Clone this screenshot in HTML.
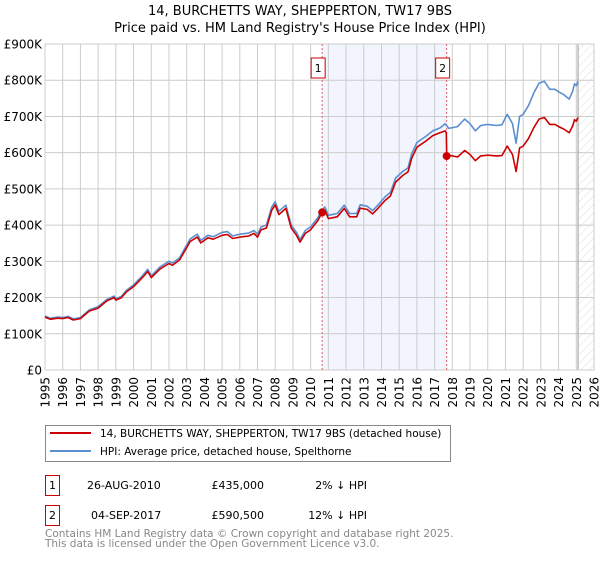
<!DOCTYPE html>
<html><head><meta charset="utf-8"><style>
body{margin:0;background:#fff;}
svg text{font-family:"DejaVu Sans","Liberation Sans",sans-serif;}
</style></head><body>
<svg id="c" width="600" height="560" xmlns="http://www.w3.org/2000/svg">
<defs><pattern id="hatch" width="6" height="6" patternUnits="userSpaceOnUse" patternTransform="rotate(45)"><line x1="0" y1="0" x2="0" y2="6" stroke="#d4d4d4" stroke-width="0.8"/></pattern></defs>
<text x="300" y="15" text-anchor="middle" font-size="13">14, BURCHETTS WAY, SHEPPERTON, TW17 9BS</text>
<text x="300" y="32" text-anchor="middle" font-size="13">Price paid vs. HM Land Registry's House Price Index (HPI)</text>
<g id="plot"></g>
<g>
<rect x="45.5" y="425.5" width="405" height="36" fill="#fff" stroke="#888"/>
<line x1="50" y1="433" x2="91" y2="433" stroke="#cc0000" stroke-width="2"/>
<text x="100" y="437" font-size="10.5">14, BURCHETTS WAY, SHEPPERTON, TW17 9BS (detached house)</text>
<line x1="50" y1="451" x2="91" y2="451" stroke="#5b8fd0" stroke-width="2"/>
<text x="100" y="455" font-size="10.5">HPI: Average price, detached house, Spelthorne</text>
</g>
<g font-size="11">
<rect x="45.5" y="475.5" width="14" height="20" fill="#fff" stroke="#cc0000"/><text x="52.5" y="489" text-anchor="middle">1</text>
<text x="87" y="489">26-AUG-2010</text><text x="264" y="489" text-anchor="end">£435,000</text><text x="367" y="489" text-anchor="end">2% ↓ HPI</text>
<rect x="45.5" y="505.5" width="14" height="20" fill="#fff" stroke="#cc0000"/><text x="52.5" y="519" text-anchor="middle">2</text>
<text x="91" y="519">04-SEP-2017</text><text x="264" y="519" text-anchor="end">£590,500</text><text x="367" y="519" text-anchor="end">12% ↓ HPI</text>
</g>
<text x="45" y="537" font-size="10.5" fill="#888">Contains HM Land Registry data © Crown copyright and database right 2025.</text>
<text x="45" y="547" font-size="10.5" fill="#888">This data is licensed under the Open Government Licence v3.0.</text>
</svg>
<script>
const hpiDates=[1995.0,1995.3,1995.7,1996.0,1996.3,1996.6,1997.0,1997.5,1998.0,1998.5,1998.9,1999.0,1999.3,1999.6,2000.0,2000.5,2000.8,2001.0,2001.5,2002.0,2002.2,2002.6,2003.0,2003.2,2003.6,2003.8,2004.2,2004.5,2005.0,2005.3,2005.6,2006.0,2006.5,2006.8,2007.0,2007.2,2007.5,2007.8,2008.0,2008.2,2008.6,2008.9,2009.2,2009.4,2009.7,2010.0,2010.4,2010.65,2010.8,2011.0,2011.5,2011.9,2012.2,2012.6,2012.8,2013.2,2013.5,2013.8,2014.2,2014.5,2014.8,2015.2,2015.5,2015.7,2016.0,2016.5,2016.9,2017.3,2017.6,2017.8,2018.3,2018.7,2019.0,2019.3,2019.6,2020.0,2020.5,2020.8,2021.1,2021.4,2021.6,2021.8,2022.0,2022.3,2022.6,2022.9,2023.2,2023.5,2023.8,2024.0,2024.3,2024.6,2024.8,2024.9,2025.0,2025.1];
const hpiValues=[149,143,146,145,148,141,145,166,175,195,204,197,203,220,235,260,278,260,285,300,295,310,345,362,375,358,372,368,380,382,370,375,378,385,375,395,400,450,465,438,455,400,380,360,385,395,420,442,450,427,432,455,432,432,456,452,440,455,478,490,530,548,558,596,628,645,660,668,680,667,672,693,680,660,675,678,675,677,706,680,626,700,706,730,765,792,797,775,775,768,760,748,770,790,785,797];
const priceDates=[1995.0,1995.3,1995.7,1996.0,1996.3,1996.6,1997.0,1997.5,1998.0,1998.5,1998.9,1999.0,1999.3,1999.6,2000.0,2000.5,2000.8,2001.0,2001.5,2002.0,2002.2,2002.6,2003.0,2003.2,2003.6,2003.8,2004.2,2004.5,2005.0,2005.3,2005.6,2006.0,2006.5,2006.8,2007.0,2007.2,2007.5,2007.8,2008.0,2008.2,2008.6,2008.9,2009.2,2009.4,2009.7,2010.0,2010.4,2010.65,2010.8,2011.0,2011.5,2011.9,2012.2,2012.6,2012.8,2013.2,2013.5,2013.8,2014.2,2014.5,2014.8,2015.2,2015.5,2015.7,2016.0,2016.5,2016.9,2017.3,2017.6,2017.66,2017.68,2017.8,2018.3,2018.7,2019.0,2019.3,2019.6,2020.0,2020.5,2020.8,2021.1,2021.4,2021.6,2021.8,2022.0,2022.3,2022.6,2022.9,2023.2,2023.5,2023.8,2024.0,2024.3,2024.6,2024.8,2024.9,2025.0,2025.1];
const priceValues=[146,140,143,142,145,138,142,163,171,191,200,193,199,216,230,255,272,255,279,294,289,304,338,355,367,351,365,361,372,374,363,367,370,377,367,387,392,441,456,429,446,392,372,353,377,387,412,435,441,418,423,446,423,423,447,443,431,446,468,480,519,537,547,584,615,632,647,655,660,655,590.5,593,588,606,595,578,591,593,591,592,618,595,548,613,618,639,669,693,697,678,678,672,665,655,674,691,687,697];
const saleDates=[2010.65,2017.68];
const salePrices=[435,590.5];
const saleLabels=["1","2"];
const yTicks=[0,100,200,300,400,500,600,700,800,900];
const yTickLabels=["£0","£100K","£200K","£300K","£400K","£500K","£600K","£700K","£800K","£900K"];
const xYears=[1995,1996,1997,1998,1999,2000,2001,2002,2003,2004,2005,2006,2007,2008,2009,2010,2011,2012,2013,2014,2015,2016,2017,2018,2019,2020,2021,2022,2023,2024,2025,2026];

const NS="http://www.w3.org/2000/svg";
const X0=45,X1=594,Y0=370,Y1=44;
const xs=y=>X0+(y-1995)/(2026-1995)*(X1-X0);
const ys=v=>Y0-v/900*(Y0-Y1);
const plot=document.getElementById('plot');
function mk(tag,attrs,parent){const e=document.createElementNS(NS,tag);for(const k in attrs)e.setAttribute(k,attrs[k]);(parent||plot).appendChild(e);return e;}
let e;
e=mk('rect',{x:X0,y:Y1,width:X1-X0,height:Y0-Y1,fill:'#fff'});


e=mk('rect',{x:xs(saleDates[0]),y:Y1,width:xs(saleDates[1])-xs(saleDates[0]),height:Y0-Y1,fill:'#f2f5fd'});


const hs=2025.1;
e=mk('rect',{x:xs(hs),y:Y1,width:X1-xs(hs),height:Y0-Y1,fill:'url(#hatch)'});


yTicks.forEach((t,i)=>{
 e=mk('line',{x1:X0,x2:X1,y1:ys(t),y2:ys(t),stroke:'#ccc','stroke-width':1});
 
 
 e=mk('text',{x:X0-3,y:ys(t)+4.5,'text-anchor':'end','font-size':12});
 e.textContent=yTickLabels[i];
 
 
});
xYears.forEach(yr=>{
 e=mk('line',{x1:xs(yr),x2:xs(yr),y1:Y1,y2:Y0,stroke:'#ccc','stroke-width':1});
 
 
 e=mk('text',{x:0,y:0,'text-anchor':'end','font-size':12,transform:`translate(${xs(yr)+4.5},377) rotate(-90)`});
 e.textContent=yr;
 
 
});
e=mk('line',{x1:xs(hs),x2:xs(hs),y1:Y1,y2:Y0,stroke:'#999','stroke-width':1});


e=mk('rect',{x:X0,y:Y1,width:X1-X0,height:Y0-Y1,fill:'none',stroke:'#ccc'});


saleDates.forEach((d,i)=>{
 e=mk('line',{x1:xs(d),x2:xs(d),y1:Y1,y2:Y0,stroke:'#e06060','stroke-width':1,'stroke-dasharray':'2,2'});
 
 
 e=mk('rect',{x:xs(d)-11,y:58,width:14,height:20,fill:'#fff',stroke:'#cc0000'});
 
 
 e=mk('text',{x:xs(d)-4,y:72,'text-anchor':'middle','font-size':11});
 e.textContent=saleLabels[i];
 
 
});
const pts=(d,v)=>d.map((x,i)=>xs(x).toFixed(1)+','+ys(v[i]).toFixed(1)).join(' ');
e=mk('polyline',{points:pts(hpiDates,hpiValues),fill:'none',stroke:'#5b8fd0','stroke-width':1.6,'stroke-linejoin':'round'});


e=mk('polyline',{points:pts(priceDates,priceValues),fill:'none',stroke:'#cc0000','stroke-width':1.6,'stroke-linejoin':'round'});


saleDates.forEach((d,i)=>{
 e=mk('circle',{cx:xs(d),cy:ys(salePrices[i]),r:4,fill:'#cc0000'});
 
 
});
</script>
</body></html>
